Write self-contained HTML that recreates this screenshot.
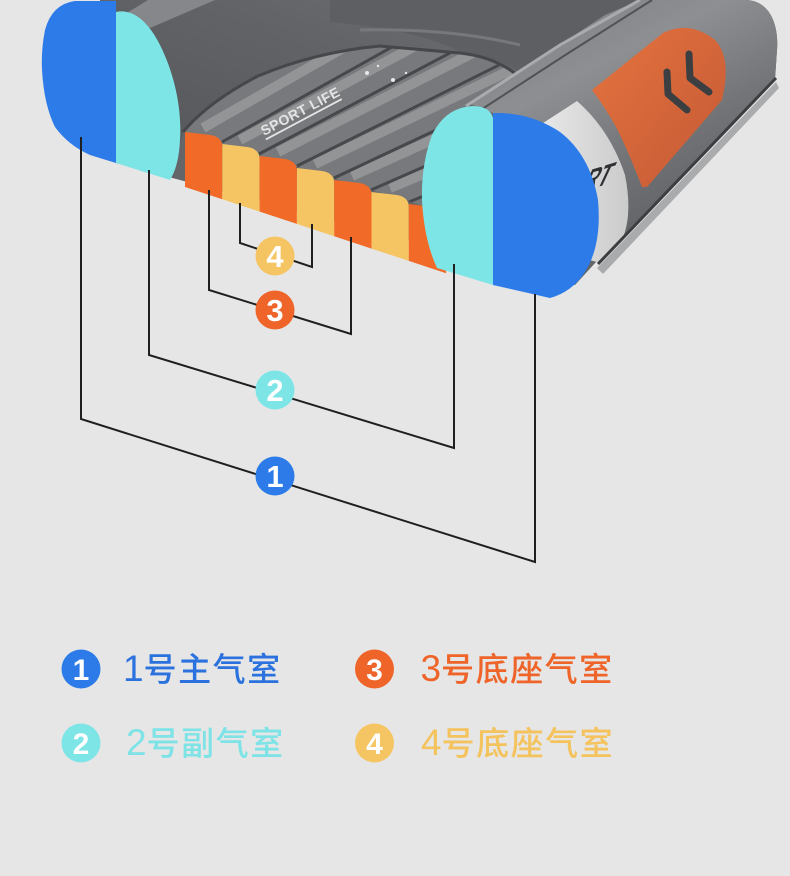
<!DOCTYPE html>
<html>
<head>
<meta charset="utf-8">
<style>
html,body{margin:0;padding:0;background:#e6e6e6;}
svg{display:block;}
</style>
</head>
<body>
<svg width="790" height="876" viewBox="0 0 790 876" xmlns="http://www.w3.org/2000/svg">
<defs>
  <linearGradient id="wallG" x1="0" y1="1" x2="1" y2="0">
    <stop offset="0" stop-color="#55575a"/>
    <stop offset="0.6" stop-color="#616366"/>
    <stop offset="1" stop-color="#6c6e71"/>
  </linearGradient>
  <linearGradient id="rtG" x1="0.15" y1="0" x2="0.75" y2="1">
    <stop offset="0" stop-color="#7c7e81"/>
    <stop offset="0.3" stop-color="#8d8f92"/>
    <stop offset="0.6" stop-color="#727477"/>
    <stop offset="1" stop-color="#56585b"/>
  </linearGradient>
  <linearGradient id="orG" x1="0" y1="0" x2="1" y2="1">
    <stop offset="0" stop-color="#e5733f"/>
    <stop offset="1" stop-color="#c45935"/>
  </linearGradient>
  <linearGradient id="whG" x1="0" y1="0" x2="1" y2="0">
    <stop offset="0" stop-color="#e8e8e8"/>
    <stop offset="1" stop-color="#cbcbcb"/>
  </linearGradient>
  <clipPath id="fc">
    <path d="M183,132 L430,208 L432,150 L470,105 L517,75 Q495,57 460,53 L380,46 Q315,52 258,76 Q208,102 183,132 Z"/>
  </clipPath>
</defs>

<rect width="790" height="876" fill="#e6e6e6"/>

<!-- body base -->
<path d="M100,0 L745,0 C770,0 779,25 777,50 L775,80 L596,262 L575,285 L116,163 L100,150 Z" fill="#636568"/>

<!-- left tube inner wall -->
<path d="M116,0 L520,0 L520,60 Q495,55 460,53 L380,46 Q315,52 258,76 Q208,102 183,132 L178,150 Q182,100 160,45 Q145,15 116,12 Z" fill="url(#wallG)"/>
<!-- tube top highlight -->
<path d="M122,16 L148,0 L215,0 L150,28 Z" fill="#85878a"/>
<!-- back wall -->
<path d="M330,0 L640,0 L600,22 L520,72 Q500,58 460,52 Q420,30 330,22 Z" fill="#5d5f62"/>
<path d="M360,30 Q450,28 520,45" stroke="#76787b" stroke-width="3" fill="none"/>

<!-- floor -->
<path d="M183,132 L430,208 L432,150 L470,105 L517,75 Q495,57 460,53 L380,46 Q315,52 258,76 Q208,102 183,132 Z" fill="#77797c"/>
<g clip-path="url(#fc)">
  <g stroke="#95979a" stroke-width="10" opacity="0.9" fill="none">
    <line x1="203" y1="128" x2="427" y2="0"/>
    <line x1="240" y1="140" x2="501" y2="0"/>
    <line x1="278" y1="152" x2="577" y2="0"/>
    <line x1="315" y1="164" x2="657" y2="0"/>
    <line x1="352" y1="176" x2="743" y2="0"/>
    <line x1="390" y1="188" x2="837" y2="0"/>
  </g>
  <g stroke="#46484b" stroke-width="3" fill="none">
    <line x1="222" y1="142" x2="476" y2="0"/>
    <line x1="259" y1="154" x2="550" y2="0"/>
    <line x1="297" y1="166" x2="629" y2="0"/>
    <line x1="334" y1="178" x2="713" y2="0"/>
    <line x1="371" y1="190" x2="803" y2="0"/>
    <line x1="409" y1="202" x2="902" y2="0"/>
  </g>
</g>
<path d="M183,132 Q208,102 258,76 Q315,52 380,46 L460,53 Q495,57 517,75" stroke="#45474a" stroke-width="3" fill="none"/>

<!-- SPORT LIFE -->
<g transform="translate(264,136) rotate(-28)">
  <text x="0" y="0" font-family="'Liberation Sans', sans-serif" font-size="14" font-weight="bold" letter-spacing="0.5" fill="#e4e4e4">SPORT LIFE</text>
  <rect x="0" y="3" width="86" height="1.8" fill="#e4e4e4"/>
</g>
<g fill="#e8e8e8">
  <circle cx="367" cy="73" r="2"/>
  <circle cx="378" cy="66" r="1.2"/>
  <circle cx="393" cy="80" r="2"/>
  <circle cx="406" cy="73" r="1.2"/>
</g>

<!-- right tube -->
<path d="M470,104 L605,15 L640,0 L745,0 C770,0 779,25 777,50 L775,78 L598,262 L598,200 Q590,150 560,130 L493,113 Z" fill="url(#rtG)"/>
<polyline points="466,106 560,45 640,0" stroke="#a9abae" stroke-width="3" fill="none"/>
<polyline points="476,113 570,52 652,0" stroke="#505255" stroke-width="2" fill="none"/>

<!-- white band -->
<path d="M540,125 L577,101 Q610,130 625,175 Q633,215 622,240 Q610,255 597,262 L570,255 Z" fill="url(#whG)"/>
<text transform="matrix(0.55,-0.17,-0.42,0.9,607,184)" text-anchor="end" font-family="'Liberation Sans', sans-serif" font-size="36" font-weight="bold" fill="#2e3033">SPORT</text>

<!-- orange patch -->
<path d="M592,90 L663,33 Q690,20 715,40 Q732,58 722,100 L647,187 L642,187 Q628,150 615,125 Q602,103 592,90 Z" fill="url(#orG)"/>
<g stroke="#3c3f42" stroke-width="7" fill="none" stroke-linejoin="round" stroke-linecap="round">
  <polyline points="667,72 668,94 687,110"/>
  <polyline points="689,54 690,78 709,92"/>
</g>

<!-- underside edge -->
<path d="M776,82 L779,88 L603,274 L597,268 Z" fill="#a9abad"/>
<line x1="776" y1="78" x2="598" y2="264" stroke="#3c3e41" stroke-width="3"/>

<!-- floor bars -->
<g>
  <path d="M185,187 L185,132 L210.3,135 Q222.3,137 222.3,147 L222.3,199.3 Z" fill="#f26a27"/>
  <path d="M222.3,199.3 L222.3,144 L247.6,147 Q259.6,149 259.6,159 L259.6,211.6 Z" fill="#f6c563"/>
  <path d="M259.6,211.6 L259.6,156 L284.9,159 Q296.9,161 296.9,171 L296.9,223.9 Z" fill="#f26a27"/>
  <path d="M296.9,223.9 L296.9,168 L322.2,171 Q334.2,173 334.2,183 L334.2,236.3 Z" fill="#f6c563"/>
  <path d="M334.2,236.3 L334.2,180 L359.5,183 Q371.5,185 371.5,195 L371.5,248.6 Z" fill="#f26a27"/>
  <path d="M371.5,248.6 L371.5,192 L396.8,195 Q408.8,197 408.8,207 L408.8,260.9 Z" fill="#f6c563"/>
  <path d="M408.8,260.9 L408.8,204 L434.1,207 Q446.1,209 446.1,219 L446.1,273.2 Z" fill="#f26a27"/>
</g>

<!-- left cut -->
<path d="M116,1 L75,1 Q52,4 45,30 Q41,50 42,70 Q44,105 55,127 Q68,145 90,155 L116,163 Z" fill="#2c7be8"/>
<path d="M116,12 C135,8 150,25 160,45 C175,75 182,110 180,140 C179,160 175,172 170,180 L116,163 Z" fill="#7ee5e7"/>

<!-- right cut -->
<path d="M493,118 Q490,106 472,106 Q445,108 432,135 Q421,165 422,200 Q424,240 437,268 L493,285 Z" fill="#7ee5e7"/>
<path d="M493,113 Q530,112 560,132 Q590,155 598,200 Q602,245 585,272 Q572,292 550,298 L493,285 Z" fill="#2c7be8"/>

<!-- connectors -->
<g stroke="#1f1f1f" stroke-width="2" fill="none" stroke-linejoin="miter">
  <polyline points="81,137 81,419 535,562 535,294"/>
  <polyline points="149,170 149,355 454,448 454,264"/>
  <polyline points="209,190 209,290 351,334 351,237"/>
  <polyline points="240,203 240,243 312,267 312,224"/>
</g>

<!-- diagram markers -->
<g font-family="'Liberation Sans', sans-serif" font-weight="bold" font-size="31" fill="#ffffff" text-anchor="middle">
  <circle cx="275" cy="256" r="19.5" fill="#f6c563"/>
  <text x="275" y="267">4</text>
  <circle cx="275" cy="310" r="19.5" fill="#ef6429"/>
  <text x="275" y="321">3</text>
  <circle cx="275" cy="390" r="19.5" fill="#7ee5e7"/>
  <text x="275" y="401">2</text>
  <circle cx="275" cy="476" r="19.5" fill="#2c7be8"/>
  <text x="275" y="487">1</text>
</g>

<!-- legend -->
<g font-family="'Liberation Sans', sans-serif" font-weight="bold" font-size="30" fill="#ffffff" text-anchor="middle">
  <circle cx="81" cy="669" r="19.5" fill="#2c7be8"/>
  <text x="81" y="680">1</text>
  <circle cx="81" cy="743" r="19.5" fill="#7ee5e7"/>
  <text x="81" y="754">2</text>
  <circle cx="374.5" cy="669" r="19.5" fill="#ef6429"/>
  <text x="374.5" y="680">3</text>
  <circle cx="374.5" cy="743" r="19.5" fill="#f6c563"/>
  <text x="374.5" y="754">4</text>
</g>

<g font-family="'Liberation Sans', 'Noto Sans CJK SC', sans-serif">
  <text x="123" y="681" fill="#2b72df"><tspan font-size="37">1</tspan><tspan font-size="33" font-weight="500" letter-spacing="1.5" style="font-family:'Noto Sans CJK SC', sans-serif">号主气室</tspan></text>
  <text x="126" y="755" fill="#7ee3e6"><tspan font-size="37">2</tspan><tspan font-size="33" font-weight="500" letter-spacing="1.5" style="font-family:'Noto Sans CJK SC', sans-serif">号副气室</tspan></text>
  <text x="420.5" y="681" fill="#ee6429"><tspan font-size="37">3</tspan><tspan font-size="33" font-weight="500" letter-spacing="1.5" style="font-family:'Noto Sans CJK SC', sans-serif">号底座气室</tspan></text>
  <text x="421" y="755" fill="#f4c35d"><tspan font-size="37">4</tspan><tspan font-size="33" font-weight="500" letter-spacing="1.5" style="font-family:'Noto Sans CJK SC', sans-serif">号底座气室</tspan></text>
</g>
</svg>
</body>
</html>
